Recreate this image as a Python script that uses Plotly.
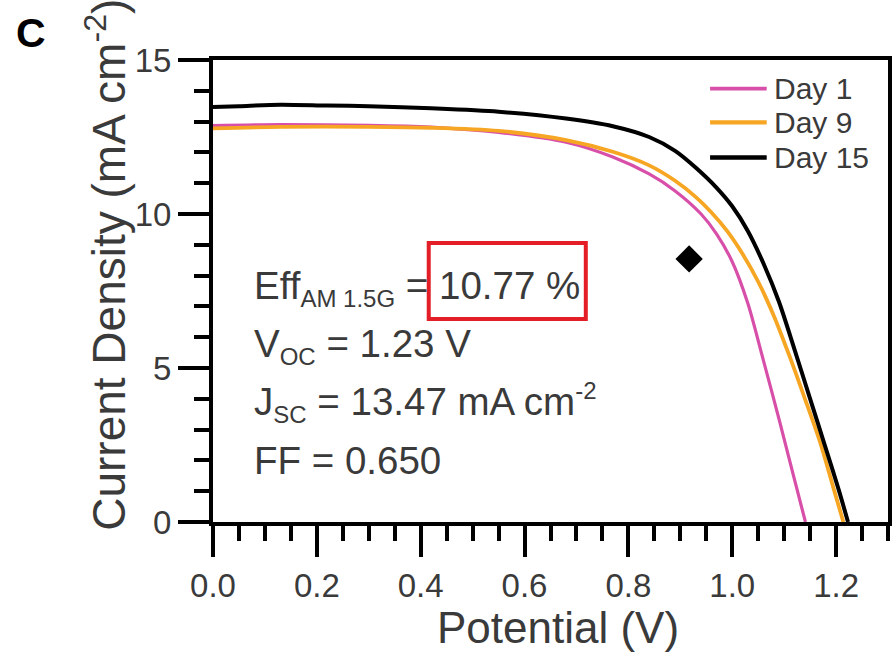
import plotly.graph_objects as go

# J-V curves (potential in V, current density in mA cm^-2)
v_day1 = [0.0, 0.13, 0.30, 0.42, 0.55, 0.68, 0.77, 0.84, 0.89, 0.94, 0.97, 1.00, 1.03, 1.06, 1.09, 1.115, 1.141]
j_day1 = [12.87, 12.90, 12.88, 12.82, 12.65, 12.33, 11.85, 11.30, 10.75, 10.00, 9.35, 8.45, 7.10, 5.25, 3.35, 1.70, 0.0]

v_day9 = [0.0, 0.13, 0.30, 0.42, 0.55, 0.68, 0.77, 0.84, 0.89, 0.93, 0.96, 0.99, 1.02, 1.05, 1.08, 1.11, 1.14, 1.17, 1.195, 1.214]
j_day9 = [12.78, 12.83, 12.83, 12.80, 12.70, 12.40, 12.02, 11.58, 11.08, 10.55, 10.05, 9.45, 8.70, 7.80, 6.70, 5.40, 4.00, 2.55, 1.10, 0.0]

v_day15 = [0.0, 0.05, 0.13, 0.22, 0.30, 0.42, 0.55, 0.68, 0.77, 0.84, 0.89, 0.93, 0.97, 1.00, 1.03, 1.06, 1.09, 1.12, 1.15, 1.18, 1.205, 1.223]
j_day15 = [13.47, 13.50, 13.55, 13.52, 13.50, 13.43, 13.32, 13.10, 12.85, 12.50, 12.05, 11.50, 10.85, 10.25, 9.45, 8.40, 7.15, 5.60, 4.00, 2.40, 1.05, 0.0]

series_names = ["Day 1", "Day 9", "Day 15"]
series_colors = ["#D84FAA", "#F6A623", "#000000"]
series_widths = [3.2, 3.8, 4.0]

# marked operating point
point_v = [0.917]
point_j = [8.54]

x_ticks = [0.0, 0.2, 0.4, 0.6, 0.8, 1.0, 1.2]
y_ticks = [0, 5, 10, 15]

FONT = "Liberation Sans, Arial, Helvetica, sans-serif"
TEXT = "#3a3a3a"

fig = go.Figure()
for v, j, name, col, w in zip([v_day1, v_day9, v_day15], [j_day1, j_day9, j_day15],
                              series_names, series_colors, series_widths):
    fig.add_trace(go.Scatter(x=v, y=j, mode="lines", name=name,
                             line=dict(color=col, width=w, shape="spline", smoothing=0.8),
                             showlegend=False))

fig.add_trace(go.Scatter(x=point_v, y=point_j, mode="markers",
                         marker=dict(symbol="diamond", size=21, color="black"),
                         showlegend=False))

axis_common = dict(
    showgrid=False, zeroline=False, showline=True, linewidth=4, linecolor="black",
    mirror=True, ticks="outside", ticklen=31, tickwidth=4, tickcolor="black",
    tickfont=dict(family=FONT, size=33, color=TEXT),
)
fig.update_xaxes(range=[0, 1.3], tickvals=x_ticks, ticktext=[f"{t:.1f}" for t in x_ticks],
                 minor=dict(dtick=0.05, tick0=0, ticks="outside", ticklen=15, tickwidth=4,
                            tickcolor="black", showgrid=False),
                 **axis_common)
fig.update_yaxes(range=[0, 15], tickvals=y_ticks,
                 minor=dict(dtick=1, tick0=0, ticks="outside", ticklen=15, tickwidth=4,
                            tickcolor="black", showgrid=False),
                 **axis_common)

SUB = '<span style="font-size:24px">{}</span>'

annotations = [
    dict(text="Current Density (mA cm<sup>-2</sup>)", textangle=-90, x=-0.159, y=0.556,
         xref="paper", yref="paper", showarrow=False, xanchor="center", yanchor="middle",
         font=dict(family=FONT, size=46, color=TEXT)),
    dict(text="Potential (V)", x=0.511, y=-0.2273, xref="paper", yref="paper",
         showarrow=False, xanchor="center", yanchor="middle",
         font=dict(family=FONT, size=44, color=TEXT)),
    dict(text="<b>C</b>", x=-0.2695, y=1.058, xref="paper", yref="paper",
         showarrow=False, xanchor="center", yanchor="middle",
         font=dict(family=FONT, size=41, color="black")),
]

stat_lines = [
    "Eff<sub>" + SUB.format("AM 1.5G") + "</sub> = 10.77 %",
    "V<sub>" + SUB.format("OC") + "</sub> = 1.23 V",
    "J<sub>" + SUB.format("SC") + "</sub> = 13.47 mA cm<sup>" + SUB.format("-2") + "</sup>",
    "FF = 0.650",
]
stat_y = [0.506, 0.381, 0.258, 0.134]
for txt, yy in zip(stat_lines, stat_y):
    annotations.append(dict(text=txt, x=0.0574, y=yy, xref="paper", yref="paper",
                            showarrow=False, xanchor="left", yanchor="middle",
                            font=dict(family=FONT, size=38.5, color=TEXT)))

# legend entries
legend_y = [0.938, 0.865, 0.789]
shapes = []
for name, col, w, yy in zip(series_names, series_colors, series_widths, legend_y):
    shapes.append(dict(type="line", xref="paper", yref="paper", x0=0.7364, x1=0.8203,
                       y0=yy, y1=yy, line=dict(color=col, width=w + 0.5)))
    annotations.append(dict(text=name, x=0.8277, y=yy, xref="paper", yref="paper",
                            showarrow=False, xanchor="left", yanchor="middle",
                            font=dict(family=FONT, size=30, color=TEXT)))

# highlight box around the efficiency value
shapes.append(dict(type="rect", xref="paper", yref="paper", x0=0.3196, x1=0.5523,
                   y0=0.4394, y1=0.6039, line=dict(color="#E41E26", width=4),
                   fillcolor="rgba(0,0,0,0)"))

fig.update_layout(
    width=894, height=656,
    margin=dict(l=213, r=2, t=60, b=134),
    paper_bgcolor="white", plot_bgcolor="white",
    annotations=annotations, shapes=shapes,
    showlegend=False,
)

fig.write_html("out.html")
